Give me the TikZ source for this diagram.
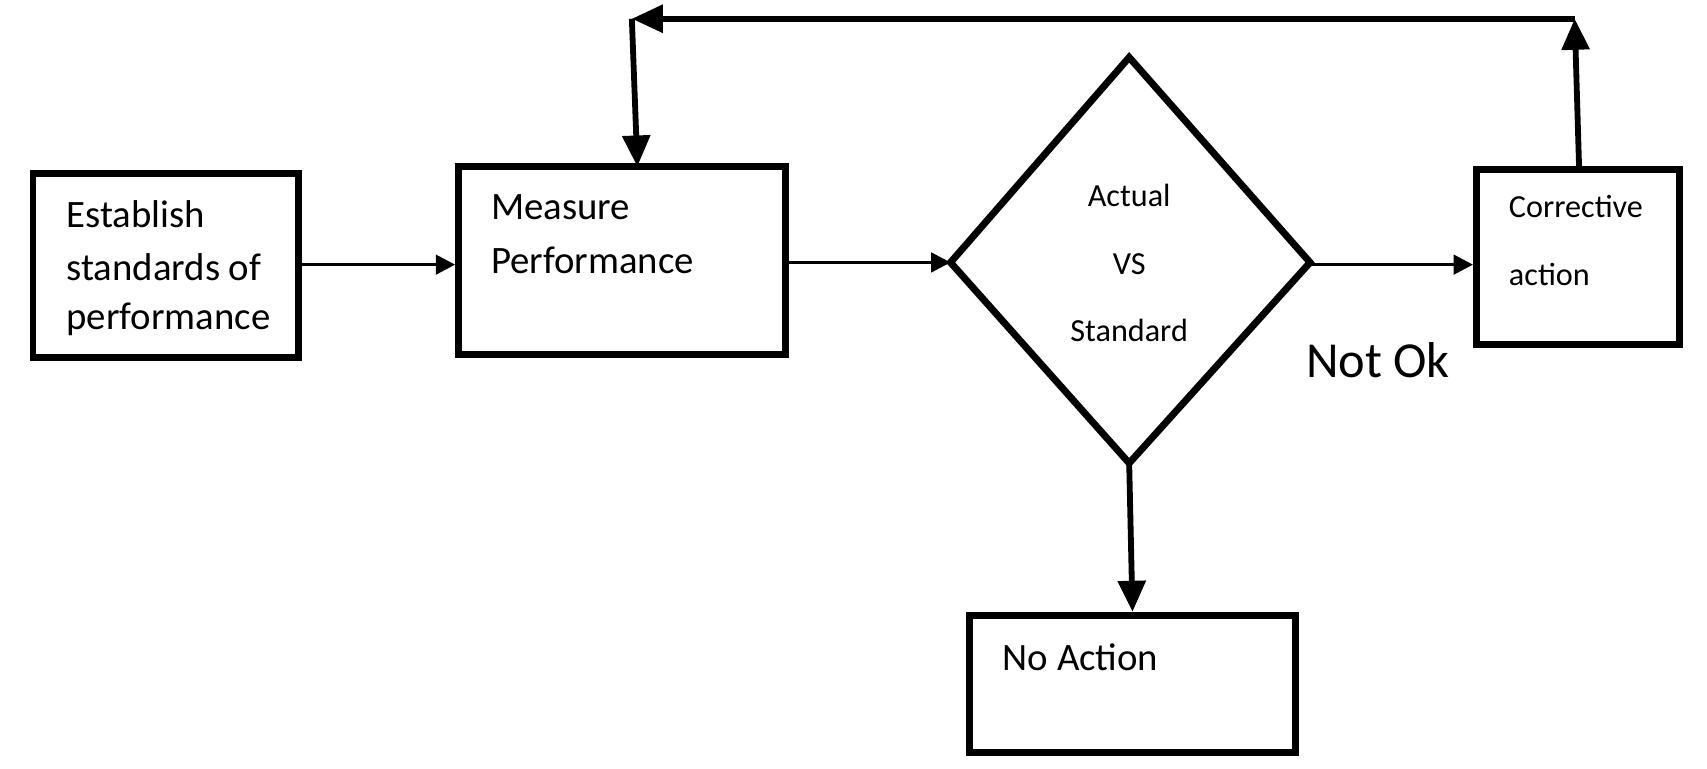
\documentclass[tikz,border=0pt]{standalone}
\usepackage{fontspec}
\setmainfont{Carlito}
\usetikzlibrary{arrows.meta}
\begin{document}
\begin{tikzpicture}[x=0.01cm,y=-0.01cm,
  box/.style={draw,line width=1.8pt,inner sep=0pt},
  txt/.style={anchor=west,font=\fontsize{10}{13}\selectfont},
  thin/.style={line width=0.9pt,-{Triangle[length=5pt,width=5pt]}},
  thick/.style={line width=1.5pt,-{Triangle[length=8pt,width=7pt]}}]
\useasboundingbox (0,0) rectangle (1548,697);
\node[box,minimum width=2.41cm,minimum height=1.67cm] (est) at (150.5,240.5) {};
\node[box,minimum width=2.96cm,minimum height=1.70cm] (mea) at (564,236) {};
\draw[line width=1.8pt,line join=miter] (1024,52) coordinate (dt) -- (1188,238) coordinate (dr) -- (1024,420) coordinate (db) -- (862,238) coordinate (dl) -- cycle;
\node[box,minimum width=1.84cm,minimum height=1.58cm] (cor) at (1431,233) {};
\node[box,minimum width=2.96cm,minimum height=1.24cm] (noa) at (1027,620) {};
\node[txt] (t1) at (48,194) {Establish};
\node[txt] (t2) at (48,242) {standards of};
\node[txt] (t3) at (48,290) {performance};
\node[txt] (t4) at (433,188) {Measure};
\node[txt] (t5) at (433,236) {Performance};
\node[font=\fontsize{8.3}{10}\selectfont] (a1) at (1024,177) {Actual};
\node[font=\fontsize{8.3}{10}\selectfont] (a2) at (1024,240) {VS};
\node[font=\fontsize{8.3}{10}\selectfont] (a3) at (1024,300) {Standard};
\node[txt,font=\fontsize{8.3}{10}\selectfont] (c1) at (1356,187) {Corrective};
\node[txt,font=\fontsize{8.3}{10}\selectfont] (c2) at (1356,249) {action};
\node[txt] (n1) at (897,596) {No Action};
\node[anchor=west,font=\fontsize{13}{15}\selectfont] (nok) at (1172,327) {Not Ok};
\coordinate (tr) at (1428,17);
\coordinate (tl) at (573,17);
\draw[thin] (est.east |- 0,240) -- (mea.west |- 0,240);
\draw[thin] (mea.east |- 0,238) -- (dl);
\draw[thin] (dr |- 0,240) -- (cor.west |- 0,240);
\draw[thick] (db) -- (noa.north);
\draw[thick] (1432,152) -- (tr);
\draw[thick] (tr) -- (tl);
\draw[thick] (tl) -- (578,151);
\end{tikzpicture}
\end{document}
